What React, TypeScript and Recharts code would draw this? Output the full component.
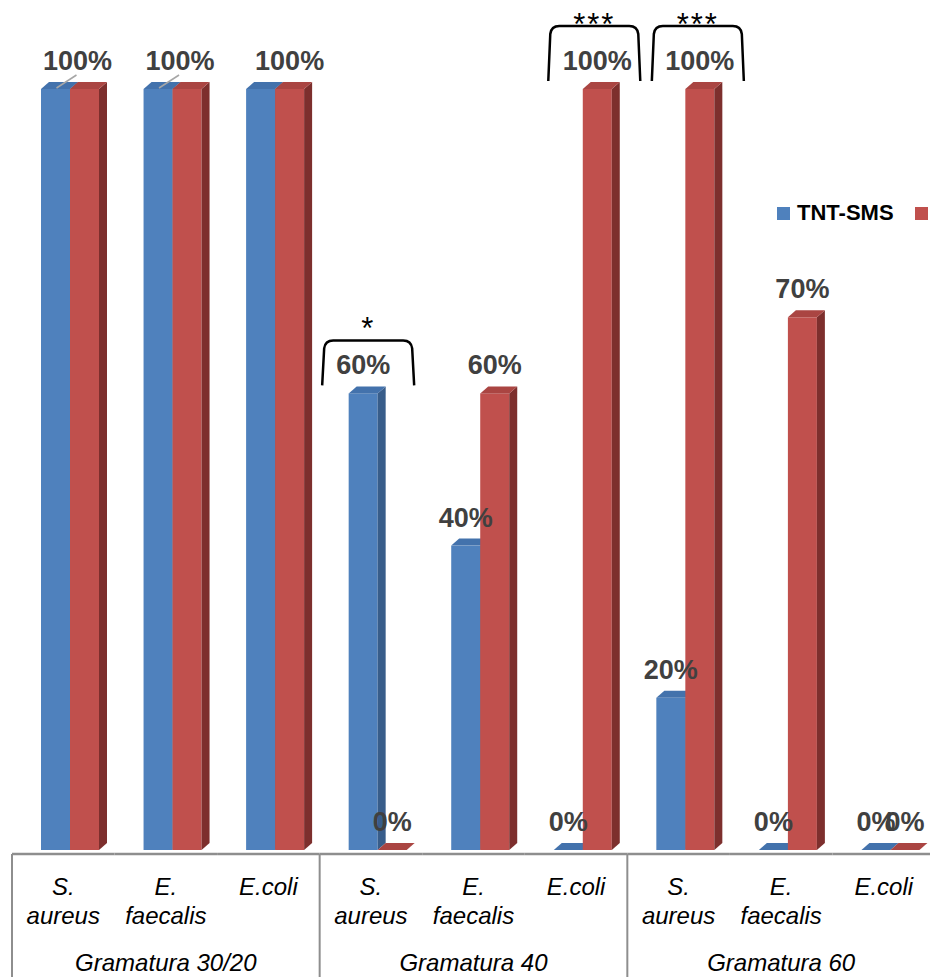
import React from 'react';
import { BarChart, Bar, XAxis, YAxis, LabelList, Legend } from 'recharts';

// the picture fills the whole window, so drop the default body margin and scrollbars
document.body.style.margin = '0';
document.documentElement.style.overflow = 'hidden';

const categories = ['S.\naureus', 'E.\nfaecalis', 'E.coli', 'S.\naureus', 'E.\nfaecalis', 'E.coli', 'S.\naureus', 'E.\nfaecalis', 'E.coli'];
const groupNames = ['Gramatura 30/20', 'Gramatura 40', 'Gramatura 60'];
const tntSms = [100, 100, 100, 60, 40, 0, 20, 0, 0];
const secondSeries = [100, 100, 100, 0, 60, 100, 100, 70, 0];
const seriesNames = ['TNT-SMS', 'TNT-PP'];

// significance brackets over single bars
const brackets = [
    { key: 'a', index: 3, stars: '*', lift: 53, dx: 5 },
    { key: 'b', index: 5, stars: '***', lift: 63, dx: -3 },
    { key: 'b', index: 6, stars: '***', lift: 63, dx: -2 },
];
// labels that sit off their bar with a leader line
const leaderIdx = [0, 1];

const data = categories.map((name, i) => ({
    name,
    group: groupNames[Math.floor(i / 3)],
    a: tntSms[i],
    b: secondSeries[i],
}));

const W = 940;
const H = 977;
const MARGIN = { top: 89, right: 5, left: 12, bottom: 0 };
const AXIS_H = 127;
const BAND = (W - MARGIN.left - MARGIN.right) / categories.length;
const SHIFT = 7;
const DX = 8;
const DY = 7;
const FONT = '"Liberation Sans", Arial, sans-serif';

const BLUE = { front: '#4F81BD', top: '#4372AC', side: '#385D8A' };
const RED = { front: '#C0504D', top: '#AA4542', side: '#7D2F2D' };

const box = (c: typeof BLUE) => (p: any) => {
    const { x, y, width: w, height: h } = p;
    const fx = x + SHIFT;
    return (
        <g>
            {h > 0 && <rect x={fx} y={y} width={w} height={h} fill={c.front} />}
            {h > 0 && (
                <polygon points={`${fx + w},${y} ${fx + w + DX},${y - DY} ${fx + w + DX},${y + h - DY} ${fx + w},${y + h}`} fill={c.side} />
            )}
            <polygon points={`${fx},${y} ${fx + w},${y} ${fx + w + DX},${y - DY} ${fx + DX},${y - DY}`} fill={c.top} />
        </g>
    );
};

const makeLabel = (key: 'a' | 'b') => (p: any) => {
    const { x, y, width, value, index } = p;
    if (key === 'a' && index < 3) return null;
    const cx = x + SHIFT + width / 2;
    const lead = key === 'b' && leaderIdx.includes(index);
    const tx = lead ? cx - 7 : cx;
    const br = brackets.find(b => b.key === key && b.index === index);
    const bx = br ? cx + br.dx : cx;
    return (
        <g>
            {lead && <line x1={cx - 28} y1={y - 1} x2={cx - 8} y2={y - 14} stroke="#A6A6A6" strokeWidth={1.5} />}
            <text x={tx} y={y - 19} textAnchor="middle" fontFamily={FONT} fontWeight="bold" fontSize={27} fill="#404040">
                {`${value}%`}
            </text>
            {br && (
                <g>
                    <path
                        d={`M${bx - 46},${y - 8} L${bx - 44},${y - br.lift + 8} Q${bx - 43},${y - br.lift} ${bx - 35},${y - br.lift} L${bx + 35},${y - br.lift} Q${bx + 43},${y - br.lift} ${bx + 44},${y - br.lift + 8} L${bx + 46},${y - 8}`}
                        fill="none"
                        stroke="#000"
                        strokeWidth={2.5}
                    />
                    <text x={bx} y={y - 54} textAnchor="middle" fontFamily={FONT} fontSize={31} letterSpacing={2} fill="#000">
                        {br.stars}
                    </text>
                </g>
            )}
        </g>
    );
};

const CategoryTick = (p: any) => {
    const { x, y, index, payload } = p;
    const lines = String(payload.value).split('\n');
    return (
        <g>
            <line x1={x - BAND / 2} y1={y + 4} x2={x + BAND / 2} y2={y + 4} stroke="#8E8E8E" strokeWidth={2.5} />
            {index % 3 === 0 && <line x1={x - BAND / 2} y1={y + 4} x2={x - BAND / 2} y2={y + 140} stroke="#8E8E8E" strokeWidth={2} />}
            {lines.map((l, i) => (
                <text key={i} x={x} y={y + 45 + i * 29} textAnchor="middle" fontFamily={FONT} fontStyle="italic" fontSize={24} fill="#000">
                    {l}
                </text>
            ))}
            {index % 3 === 1 && (
                <text x={x} y={y + 121} textAnchor="middle" fontFamily={FONT} fontStyle="italic" fontSize={24} fill="#000">
                    {data[index].group}
                </text>
            )}
        </g>
    );
};

const renderLegend = () => (
    <div style={{ display: 'flex', alignItems: 'center', fontFamily: FONT, fontWeight: 'bold', fontSize: 22, color: '#000', whiteSpace: 'nowrap' }}>
        <span style={{ width: 13, height: 13, background: BLUE.front, display: 'inline-block', marginRight: 7 }} />
        <span>{seriesNames[0]}</span>
        <span style={{ width: 13, height: 13, background: RED.front, display: 'inline-block', marginLeft: 21, marginRight: 7 }} />
        <span>{seriesNames[1]}</span>
    </div>
);

export default function App() {
    return (
        <div style={{ width: 930, height: 977, overflow: 'hidden', position: 'relative', background: '#fff' }}>
            <BarChart width={W} height={H} data={data} margin={MARGIN} barGap={0} barSize={29}>
                <XAxis
                    dataKey="name"
                    interval={0}
                    height={AXIS_H}
                    axisLine={false}
                    tickLine={false}
                    tickSize={0}
                    tickMargin={0}
                    tick={<CategoryTick />}
                />
                <YAxis hide domain={[0, 100]} />
                <Legend
                    layout="horizontal"
                    align="center"
                    verticalAlign="middle"
                    content={renderLegend}
                    wrapperStyle={{ left: 777, top: 200, width: 400, height: 26 }}
                />
                <Bar dataKey="a" name={seriesNames[0]} shape={box(BLUE)} isAnimationActive={false}>
                    <LabelList dataKey="a" content={makeLabel('a')} />
                </Bar>
                <Bar dataKey="b" name={seriesNames[1]} shape={box(RED)} isAnimationActive={false}>
                    <LabelList dataKey="b" content={makeLabel('b')} />
                </Bar>
            </BarChart>
        </div>
    );
}
